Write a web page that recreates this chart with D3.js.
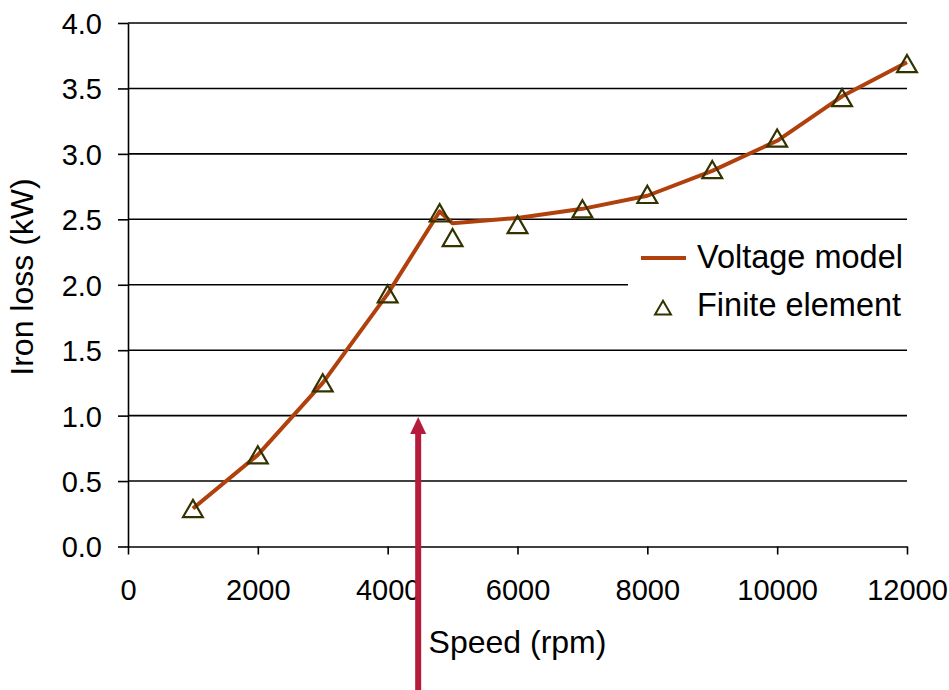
<!DOCTYPE html>
<html lang='en'>
<head>
	<meta charset='utf-8'>
	<title>Iron loss vs speed</title>
	<script src="https://cdn.jsdelivr.net/npm/d3@7"></script>
	<style>
		body{margin:0;background:#fff;}
		text{font-family:"Liberation Sans",Arial,sans-serif;fill:#000;}
	</style>
</head>
<body>
<div id='chart'></div>
<script type='text/javascript'>
	// data
	const speeds = [1000,2000,3000,4000,4800,5000,6000,7000,8000,9000,10000,11000,12000];
	const voltageModel = [0.29,0.70,1.25,1.93,2.56,2.47,2.51,2.58,2.68,2.87,3.10,3.44,3.70];
	const finiteElement = [0.28,0.69,1.24,1.92,2.54,2.35,2.45,2.57,2.68,2.87,3.11,3.42,3.68];
	const xTicks = [0,2000,4000,6000,8000,10000,12000];
	const yTicks = [0,0.5,1.0,1.5,2.0,2.5,3.0,3.5,4.0];
	const seriesNames = ["Voltage model","Finite element"];
	const arrowSpeed = 4470, arrowTip = 0.99, arrowBase = -1.1;

	const svg_block = {width:949,height:690};
	let margin = {top:23,right:42,bottom:143.5,left:128};
	let width = svg_block.width - margin.left - margin.right;
	let height = svg_block.height - margin.top - margin.bottom;
	const lineColor = '#b0400c', markerColor = '#333300', arrowColor = '#b51b3b';

	let svg = d3.select("#chart")
				.append("svg")
					.attr("width",svg_block.width)
					.attr("height",svg_block.height)
				.append("g")
					.attr("transform",`translate(${margin.left},${margin.top})`);

	let x = d3.scaleLinear().domain([0,12000]).range([0,width]);
	let y = d3.scaleLinear().domain([0,4]).range([height,0]);

	//gridlines
	svg.append("g")
		.selectAll("line")
		.data(yTicks.filter(d => d > 0))
		.enter()
		.append("line")
			.attr("x1",0).attr("x2",width)
			.attr("y1",d => y(d)).attr("y2",d => y(d))
			.attr("stroke","#000").attr("stroke-width",1.6);

	//y axis
	let yAxis = svg.append("g")
		.call(d3.axisLeft(y).tickValues(yTicks).tickFormat(d3.format(".1f")).tickSize(10).tickSizeOuter(0));
	yAxis.select(".domain").attr("stroke-width",1.6);
	yAxis.selectAll(".tick line").attr("stroke-width",1.6);
	yAxis.selectAll("text").attr("x",-26).attr("dy","0.36em").style("font-size","29px").style("font-family","Liberation Sans, Arial, sans-serif");

	//x axis
	let xAxis = svg.append("g")
		.attr("transform",`translate(0,${height})`)
		.call(d3.axisBottom(x).tickValues(xTicks).tickFormat(d3.format("d")).tickSize(8).tickSizeOuter(0));
	xAxis.select(".domain").attr("stroke-width",1.6);
	xAxis.selectAll(".tick line").attr("stroke-width",1.6);
	xAxis.selectAll("text").attr("y",0).attr("dy",53.5).style("font-size","29px").style("font-family","Liberation Sans, Arial, sans-serif");

	//axis titles
	svg.append("text")
		.attr("x",width/2).attr("y",height+106.5)
		.style("text-anchor","middle").style("font-size","32px")
		.text("Speed (rpm)");

	svg.append("text")
		.attr("transform",`translate(${33-margin.left},${277-margin.top}) rotate(-90)`)
		.style("text-anchor","middle").style("font-size","32px")
		.text("Iron loss (kW)");

	//legend box covers gridline
	svg.append("rect")
		.attr("x",628-margin.left).attr("y",232-margin.top)
		.attr("width",290).attr("height",98)
		.attr("fill","#fff");

	//voltage model line
	let line = d3.line()
		.x((d,i) => x(speeds[i]))
		.y(d => y(d));

	svg.append("path")
		.datum(voltageModel)
		.attr("d",line)
		.attr("fill","none")
		.attr("stroke",lineColor)
		.attr("stroke-width",4)
		.attr("stroke-linejoin","round");

	//finite element markers
	let tri = d3.symbol().type(d3.symbolTriangle).size(170);
	svg.append("g")
		.selectAll("path")
		.data(finiteElement)
		.enter()
		.append("path")
			.attr("d",tri)
			.attr("transform",(d,i) => `translate(${x(speeds[i])},${y(d)+1.5})`)
			.attr("fill","none")
			.attr("stroke",markerColor)
			.attr("stroke-width",2.2);

	//legend
	let legend = svg.append("g").attr("transform",`translate(${641-margin.left},0)`);
	legend.append("line")
		.attr("x1",0).attr("x2",45)
		.attr("y1",258-margin.top).attr("y2",258-margin.top)
		.attr("stroke",lineColor).attr("stroke-width",4);
	legend.append("path")
		.attr("d",d3.symbol().type(d3.symbolTriangle).size(110))
		.attr("transform",`translate(22,${310-margin.top})`)
		.attr("fill","none").attr("stroke",markerColor).attr("stroke-width",2);
	seriesNames.forEach(function(d,i){
		legend.append("text")
			.attr("x",56).attr("y",268 + 48*i - margin.top)
			.style("font-size","32.5px")
			.text(d);
	});

	//arrow annotation
	svg.append("line")
		.attr("x1",x(arrowSpeed)).attr("x2",x(arrowSpeed))
		.attr("y1",y(arrowBase)).attr("y2",y(arrowTip)+14)
		.attr("stroke",arrowColor).attr("stroke-width",6);
	svg.append("path")
		.attr("d",`M${x(arrowSpeed)},${y(arrowTip)} l8,17 l-16,0 z`)
		.attr("fill",arrowColor);
</script>
</body>
</html>
